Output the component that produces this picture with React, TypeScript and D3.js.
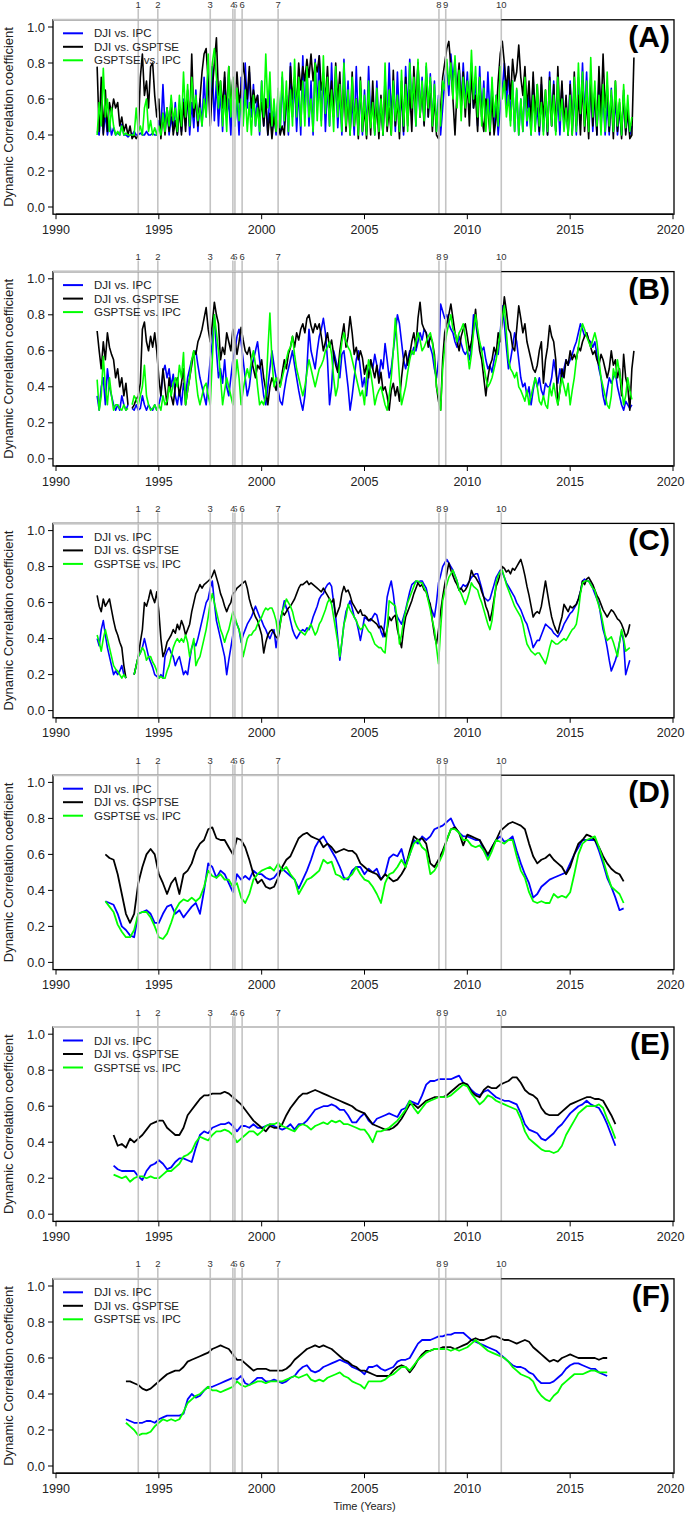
import React from "react";
import * as d3 from "d3";

// ---------- axis / annotation data ----------
const EVENT_YEARS = [1994.0, 1994.95, 1997.5, 1998.6, 1998.7, 1999.05, 2000.8, 2008.62, 2008.95, 2011.65];
const EVENT_LABELS = ["1", "2", "3", "4", "5", "6", "7", "8", "9", "10"];
// label drawing order ("4" drawn over "5", as in the source figure)
const EVENT_LABEL_ORDER = [0, 1, 2, 4, 3, 5, 6, 7, 8, 9];
const X_TICKS = [1990, 1995, 2000, 2005, 2010, 2015, 2020];
const Y_TICKS = [0, 0.2, 0.4, 0.6, 0.8, 1.0];
const SERIES_NAMES = ["DJI vs. IPC", "DJI vs. GSPTSE", "GSPTSE vs. IPC"];
const SERIES_COLORS = ["#0000ff", "#000000", "#00ff00"];
const PANEL_LABELS = ["(A)", "(B)", "(C)", "(D)", "(E)", "(F)"];
const PANEL_START = [1992.0, 1992.0, 1992.0, 1992.4, 1992.8, 1993.4];
const PANEL_STEP = [0.1, 0.1, 0.1, 0.2, 0.2, 0.2];

// ---------- Panel A (step 0.1 yr from 1992.0) ----------
const A_DJI_IPC = [
  0.42,0.40,0.58,0.41,0.52,0.40,0.47,0.40,0.44,0.40,
  0.41,0.40,0.46,0.40,0.40,0.39,0.40,0.40,0.42,0.40,
  0.40,0.41,0.40,0.40,0.42,0.40,0.40,0.41,0.40,0.40,
  0.48,0.42,0.68,0.45,0.55,0.40,0.50,0.42,0.58,0.40,
  0.55,0.42,0.60,0.45,0.62,0.40,0.58,0.44,0.65,0.42,
  0.60,0.45,0.72,0.50,0.80,0.55,0.78,0.48,0.70,0.45,
  0.65,0.42,0.72,0.50,0.60,0.40,0.70,0.45,0.62,0.40,
  0.72,0.48,0.80,0.55,0.75,0.50,0.68,0.45,0.62,0.40,
  0.70,0.45,0.60,0.40,0.66,0.42,0.55,0.40,0.62,0.41,
  0.72,0.45,0.62,0.40,0.80,0.50,0.70,0.42,0.66,0.40,
  0.84,0.50,0.78,0.45,0.70,0.40,0.82,0.55,0.84,0.48,
  0.75,0.42,0.68,0.45,0.80,0.50,0.72,0.44,0.65,0.40,
  0.82,0.50,0.70,0.42,0.60,0.40,0.78,0.45,0.66,0.40,
  0.65,0.42,0.78,0.48,0.62,0.40,0.70,0.44,0.58,0.40,
  0.72,0.45,0.80,0.50,0.68,0.42,0.75,0.48,0.62,0.40,
  0.78,0.52,0.82,0.55,0.70,0.45,0.80,0.50,0.72,0.46,
  0.78,0.50,0.74,0.45,0.70,0.42,0.62,0.40,0.55,0.70,
  0.80,0.62,0.85,0.70,0.82,0.60,0.78,0.55,0.80,0.58,
  0.75,0.52,0.80,0.55,0.72,0.45,0.78,0.50,0.70,0.45,
  0.75,0.50,0.68,0.42,0.62,0.40,0.55,0.65,0.80,0.55,
  0.78,0.48,0.70,0.42,0.65,0.40,0.60,0.42,0.70,0.45,
  0.62,0.40,0.72,0.45,0.55,0.40,0.68,0.42,0.60,0.40,
  0.75,0.45,0.70,0.42,0.62,0.40,0.68,0.44,0.58,0.40,
  0.70,0.42,0.66,0.40,0.72,0.48,0.80,0.50,0.75,0.45,
  0.70,0.42,0.64,0.40,0.72,0.45,0.62,0.40,0.58,0.40,
  0.66,0.42,0.60,0.40,0.55,0.40,0.62,0.42,0.52,0.40,
  0.45,
];
const A_DJI_GSPTSE = [
  0.78,0.42,0.72,0.40,0.65,0.42,0.58,0.52,0.60,0.55,
  0.58,0.45,0.50,0.42,0.46,0.40,0.45,0.38,0.40,0.38,
  0.40,0.72,0.85,0.62,0.70,0.55,0.78,0.80,0.62,0.50,
  0.60,0.38,0.52,0.40,0.55,0.42,0.60,0.40,0.48,0.40,
  0.55,0.40,0.58,0.42,0.65,0.45,0.85,0.50,0.60,0.45,
  0.60,0.75,0.85,0.88,0.70,0.45,0.65,0.80,0.94,0.62,
  0.70,0.55,0.75,0.50,0.78,0.55,0.72,0.60,0.75,0.58,
  0.65,0.80,0.70,0.60,0.78,0.55,0.65,0.58,0.62,0.50,
  0.58,0.45,0.60,0.40,0.52,0.38,0.50,0.42,0.48,0.40,
  0.45,0.40,0.62,0.50,0.78,0.60,0.72,0.55,0.80,0.65,
  0.78,0.70,0.82,0.72,0.85,0.70,0.80,0.75,0.84,0.65,
  0.72,0.60,0.78,0.55,0.70,0.50,0.80,0.58,0.75,0.45,
  0.70,0.42,0.62,0.40,0.75,0.45,0.60,0.38,0.72,0.42,
  0.55,0.38,0.65,0.40,0.70,0.42,0.58,0.38,0.62,0.40,
  0.68,0.42,0.55,0.40,0.76,0.45,0.60,0.38,0.70,0.42,
  0.72,0.45,0.65,0.42,0.78,0.55,0.80,0.50,0.68,0.45,
  0.75,0.50,0.70,0.42,0.62,0.40,0.38,0.55,0.72,0.80,
  0.88,0.92,0.78,0.60,0.40,0.65,0.80,0.55,0.75,0.50,
  0.70,0.45,0.75,0.55,0.62,0.42,0.72,0.50,0.42,0.60,
  0.55,0.40,0.62,0.40,0.50,0.70,0.85,0.92,0.80,0.65,
  0.78,0.60,0.82,0.70,0.75,0.90,0.72,0.62,0.78,0.55,
  0.70,0.45,0.75,0.50,0.68,0.42,0.72,0.48,0.65,0.40,
  0.72,0.45,0.68,0.42,0.78,0.50,0.70,0.45,0.62,0.40,
  0.68,0.40,0.75,0.45,0.62,0.40,0.70,0.42,0.60,0.38,
  0.72,0.45,0.65,0.40,0.78,0.50,0.85,0.55,0.68,0.42,
  0.62,0.38,0.70,0.42,0.58,0.38,0.65,0.40,0.55,0.38,
  0.40,0.83,
];
const A_GSPTSE_IPC = [
  0.40,0.58,0.45,0.77,0.50,0.60,0.42,0.55,0.45,0.40,
  0.42,0.40,0.45,0.40,0.41,0.40,0.40,0.40,0.40,0.55,
  0.42,0.45,0.40,0.55,0.60,0.42,0.48,0.40,0.44,0.40,
  0.45,0.40,0.52,0.42,0.55,0.45,0.62,0.48,0.55,0.42,
  0.62,0.45,0.75,0.50,0.68,0.45,0.72,0.55,0.62,0.48,
  0.55,0.45,0.60,0.50,0.85,0.65,0.80,0.88,0.72,0.55,
  0.70,0.45,0.62,0.42,0.78,0.50,0.72,0.45,0.66,0.48,
  0.60,0.45,0.65,0.42,0.58,0.40,0.62,0.45,0.55,0.42,
  0.70,0.50,0.85,0.55,0.75,0.45,0.60,0.42,0.66,0.44,
  0.75,0.48,0.70,0.42,0.65,0.45,0.82,0.50,0.72,0.45,
  0.70,0.45,0.78,0.50,0.60,0.42,0.80,0.48,0.70,0.45,
  0.84,0.52,0.72,0.45,0.65,0.42,0.78,0.50,0.68,0.42,
  0.80,0.45,0.65,0.40,0.72,0.45,0.60,0.40,0.70,0.42,
  0.62,0.40,0.70,0.44,0.58,0.40,0.66,0.42,0.60,0.40,
  0.80,0.45,0.65,0.40,0.70,0.48,0.62,0.42,0.76,0.45,
  0.68,0.42,0.80,0.55,0.72,0.45,0.82,0.50,0.70,0.48,
  0.80,0.55,0.72,0.45,0.68,0.42,0.60,0.45,0.70,0.65,
  0.82,0.68,0.80,0.60,0.84,0.55,0.76,0.48,0.72,0.55,
  0.70,0.58,0.87,0.60,0.78,0.50,0.72,0.45,0.66,0.42,
  0.60,0.42,0.72,0.50,0.62,0.45,0.78,0.60,0.70,0.50,
  0.62,0.45,0.70,0.42,0.66,0.40,0.60,0.42,0.72,0.48,
  0.55,0.40,0.62,0.42,0.68,0.45,0.58,0.40,0.65,0.42,
  0.70,0.45,0.62,0.40,0.72,0.48,0.60,0.42,0.55,0.40,
  0.62,0.40,0.72,0.42,0.80,0.52,0.75,0.45,0.70,0.42,
  0.83,0.50,0.70,0.45,0.62,0.40,0.68,0.42,0.75,0.45,
  0.65,0.42,0.70,0.45,0.60,0.40,0.68,0.44,0.62,0.42,
  0.50,
];

// ---------- Panel B (step 0.1 yr from 1992.0) ----------
const B_DJI_IPC = [
  0.35,0.27,0.40,0.45,0.30,0.50,0.40,0.35,0.30,0.27,
  0.30,0.27,0.35,0.30,0.27,0.30,null,0.28,0.27,0.30,
  0.27,0.28,0.35,0.30,0.27,0.30,0.28,0.27,0.30,0.27,
  0.30,0.35,0.48,0.52,0.45,0.50,0.40,0.47,0.35,0.30,
  0.38,0.30,0.42,0.35,0.45,0.50,0.55,0.58,0.60,0.52,
  0.45,0.40,0.35,0.30,0.42,0.55,0.65,0.80,0.60,0.45,
  0.50,0.42,0.55,0.40,0.35,0.45,0.55,0.60,0.68,0.72,
  0.65,0.55,0.45,0.35,0.40,0.50,0.55,0.60,0.65,0.55,
  0.45,0.35,0.30,0.40,0.50,0.60,0.52,0.45,0.38,0.32,
  0.30,0.38,0.45,0.50,0.55,0.60,0.52,0.45,0.38,0.32,
  0.27,0.35,0.50,0.72,0.60,0.55,0.50,0.60,0.68,0.72,
  0.78,0.70,0.55,0.30,0.40,0.60,0.55,0.50,0.45,0.58,
  0.60,0.50,0.40,0.27,0.35,0.45,0.55,0.60,0.50,0.40,
  0.45,0.35,0.48,0.55,0.50,0.58,0.52,0.45,0.55,0.50,
  0.64,0.55,0.45,0.50,0.60,0.70,0.80,0.75,0.65,0.55,
  0.50,0.55,0.60,0.58,0.62,0.60,0.65,0.70,0.66,0.72,
  0.70,0.65,0.62,0.58,0.50,0.45,0.55,0.86,0.82,0.78,
  0.80,0.75,0.72,0.70,0.65,0.62,0.68,0.64,0.60,0.58,
  0.60,0.55,0.62,0.80,0.76,0.68,0.64,0.60,0.62,0.55,
  0.50,0.52,0.48,0.55,0.60,0.58,0.70,0.85,0.75,0.62,
  0.50,0.55,0.62,0.70,0.65,0.55,0.45,0.40,0.42,0.35,
  0.40,0.30,0.38,0.45,0.40,0.45,0.38,0.35,0.42,0.40,
  0.40,0.45,0.55,0.48,0.42,0.50,0.45,0.50,0.55,0.52,
  0.55,0.58,0.62,0.65,0.70,0.75,0.72,0.68,0.70,0.66,
  0.65,0.62,0.65,0.58,0.50,0.45,0.35,0.30,0.38,0.45,
  0.42,0.45,0.48,0.40,0.35,0.30,0.27,0.32,0.30,0.28,
  0.30,
];
const B_DJI_GSPTSE = [
  0.71,0.60,0.50,0.65,0.55,0.70,0.62,0.58,0.55,0.45,
  0.50,0.40,0.45,0.35,0.42,0.30,null,0.28,0.30,0.33,
  0.35,0.42,0.72,0.76,0.65,0.60,0.68,0.62,0.70,0.60,
  0.45,0.35,0.50,0.40,0.30,0.45,0.35,0.30,0.40,0.45,
  0.35,0.42,0.50,0.30,0.38,0.45,0.52,0.60,0.58,0.65,
  0.68,0.72,0.78,0.84,0.72,0.65,0.75,0.87,0.80,0.75,
  0.55,0.62,0.58,0.70,0.65,0.60,0.72,0.66,0.58,0.65,
  0.73,0.66,0.60,0.58,0.62,0.55,0.50,0.45,0.52,0.50,
  0.55,0.45,0.38,0.30,0.40,0.45,0.42,0.38,0.45,0.40,
  0.48,0.55,0.50,0.58,0.62,0.68,0.62,0.70,0.66,0.72,
  0.75,0.70,0.78,0.80,0.74,0.70,0.75,0.72,0.75,0.68,
  0.60,0.65,0.70,0.62,0.66,0.58,0.52,0.48,0.60,0.68,
  0.75,0.62,0.68,0.79,0.70,0.58,0.62,0.55,0.60,0.56,
  0.47,0.52,0.45,0.55,0.50,0.45,0.52,0.42,0.48,0.38,
  0.40,0.35,0.27,0.38,0.42,0.35,0.40,0.32,0.45,0.55,
  0.60,0.52,0.58,0.65,0.70,0.62,0.78,0.87,0.75,0.72,
  0.70,0.62,0.68,0.65,0.58,0.40,0.32,0.27,0.55,0.70,
  0.75,0.80,0.86,0.78,0.70,0.65,0.60,0.68,0.72,0.75,
  0.68,0.60,0.65,0.72,0.83,0.70,0.60,0.55,0.45,0.35,
  0.45,0.52,0.55,0.62,0.58,0.70,0.65,0.78,0.90,0.82,
  0.72,0.70,0.62,0.60,0.72,0.85,0.78,0.70,0.75,0.65,
  0.60,0.55,0.50,0.48,0.52,0.60,0.65,0.42,0.55,0.62,
  0.74,0.68,0.65,0.55,0.30,0.38,0.50,0.45,0.55,0.52,
  0.60,0.55,0.58,0.55,0.62,0.60,0.65,0.68,0.70,0.66,
  0.62,0.58,0.60,0.55,0.52,0.58,0.55,0.50,0.45,0.50,
  0.60,0.52,0.55,0.45,0.50,0.35,0.58,0.45,0.40,0.27,
  0.50,0.60,
];
const B_GSPTSE_IPC = [
  0.44,0.27,0.35,0.57,0.40,0.30,0.45,0.35,0.27,0.30,
  0.30,0.28,0.27,0.30,0.27,0.28,null,0.30,0.35,0.33,
  0.30,0.35,0.40,0.52,0.35,0.30,0.27,0.28,0.30,0.27,
  0.30,0.27,0.35,0.30,0.32,0.40,0.35,0.42,0.45,0.40,
  0.52,0.45,0.59,0.30,0.38,0.45,0.55,0.60,0.45,0.35,
  0.30,0.35,0.40,0.42,0.35,0.30,0.55,0.80,0.70,0.60,
  0.45,0.30,0.38,0.45,0.40,0.35,0.30,0.42,0.55,0.45,
  0.30,0.38,0.45,0.50,0.45,0.55,0.60,0.52,0.40,0.30,
  0.32,0.30,0.35,0.60,0.81,0.55,0.40,0.45,0.42,0.40,
  0.45,0.50,0.55,0.60,0.62,0.68,0.58,0.50,0.45,0.40,
  0.35,0.40,0.48,0.55,0.50,0.45,0.40,0.45,0.50,0.52,
  0.55,0.60,0.62,0.65,0.58,0.45,0.35,0.40,0.55,0.65,
  0.70,0.65,0.62,0.60,0.55,0.50,0.45,0.40,0.35,0.38,
  0.30,0.45,0.55,0.48,0.40,0.30,0.35,0.38,0.40,0.35,
  0.30,0.27,0.35,0.45,0.60,0.78,0.62,0.45,0.30,0.35,
  0.40,0.48,0.55,0.60,0.58,0.65,0.70,0.66,0.60,0.62,
  0.65,0.68,0.70,0.65,0.55,0.40,0.35,0.27,0.50,0.62,
  0.70,0.75,0.80,0.72,0.70,0.65,0.70,0.72,0.75,0.68,
  0.60,0.50,0.58,0.70,0.80,0.72,0.65,0.60,0.52,0.45,
  0.40,0.42,0.45,0.50,0.55,0.62,0.70,0.78,0.85,0.70,
  0.55,0.50,0.48,0.45,0.48,0.40,0.38,0.35,0.32,0.38,
  0.30,0.35,0.40,0.45,0.40,0.32,0.30,0.35,0.30,0.28,
  0.40,0.35,0.42,0.35,0.30,0.38,0.45,0.40,0.35,0.42,
  0.30,0.38,0.45,0.55,0.62,0.70,0.75,0.72,0.68,0.65,
  0.62,0.66,0.70,0.65,0.55,0.45,0.40,0.35,0.30,0.28,
  0.35,0.50,0.45,0.55,0.48,0.40,0.30,0.35,0.45,0.38,
  0.33,
];

// ---------- Panel C (step 0.1 yr from 1992.0) ----------
const C_DJI_IPC = [
  0.40,0.36,0.45,0.50,0.42,0.35,0.30,0.25,0.20,0.22,
  0.20,0.22,0.25,0.20,0.18,null,null,null,0.20,0.25,
  0.30,0.32,0.35,0.40,0.35,0.30,0.27,0.24,0.20,0.19,
  0.18,0.20,0.18,0.30,0.33,0.35,0.32,0.30,0.25,0.28,
  0.30,0.25,0.20,0.22,0.20,0.28,0.35,0.38,0.36,0.40,
  0.45,0.50,0.55,0.60,0.62,0.68,0.72,0.60,0.50,0.45,
  0.40,0.35,0.30,0.20,0.28,0.35,0.42,0.50,0.48,0.45,
  0.38,0.42,0.45,0.48,0.50,0.52,0.55,0.58,0.55,0.52,
  0.50,0.47,0.45,0.42,0.40,0.43,0.45,0.35,0.42,0.50,
  0.55,0.61,0.57,0.55,0.50,0.45,0.42,0.40,0.42,0.44,
  0.45,0.44,0.46,0.45,0.48,0.52,0.55,0.58,0.62,0.64,
  0.65,0.68,0.70,0.71,0.69,0.60,0.52,0.40,0.28,0.38,
  0.48,0.55,0.58,0.61,0.57,0.52,0.50,0.45,0.39,0.45,
  0.52,0.51,0.50,0.50,0.52,0.54,0.53,0.48,0.44,0.41,
  0.50,0.63,0.68,0.72,0.65,0.55,0.52,0.50,0.48,0.52,
  0.56,0.61,0.66,0.70,0.71,0.72,0.71,0.72,0.72,0.70,
  0.68,0.63,0.58,0.55,0.52,0.60,0.71,0.75,0.80,0.82,
  0.84,0.82,0.80,0.78,0.75,0.72,0.67,0.68,0.70,0.69,
  0.70,0.72,0.74,0.75,0.76,0.76,0.72,0.68,0.63,0.62,
  0.61,0.62,0.66,0.70,0.74,0.76,0.78,0.77,0.74,0.71,
  0.69,0.67,0.65,0.63,0.60,0.58,0.56,0.53,0.50,0.48,
  0.44,0.40,0.35,0.37,0.39,0.39,0.42,0.45,0.48,0.47,
  0.46,0.45,0.43,0.42,0.41,0.43,0.45,0.48,0.50,0.52,
  0.54,0.55,0.57,0.59,0.62,0.66,0.72,0.73,0.72,0.72,
  0.70,0.68,0.65,0.62,0.59,0.52,0.45,0.41,0.35,0.28,
  0.22,0.25,0.28,0.32,0.38,0.44,0.38,0.20,0.24,0.28,
];
const C_DJI_GSPTSE = [
  0.64,0.58,0.55,0.62,0.58,0.60,0.62,0.56,0.50,0.45,
  0.42,0.38,0.35,0.25,0.18,null,null,null,0.20,0.25,
  0.30,0.38,0.45,0.60,0.58,0.62,0.67,0.63,0.60,0.66,
  0.55,0.40,0.30,0.33,0.38,0.40,0.42,0.45,0.43,0.48,
  0.45,0.50,0.47,0.42,0.45,0.48,0.55,0.60,0.65,0.67,
  0.70,0.68,0.70,0.71,0.72,0.73,0.75,0.78,0.74,0.70,
  0.65,0.62,0.58,0.55,0.58,0.60,0.65,0.66,0.68,0.69,
  0.70,0.71,0.72,0.68,0.62,0.58,0.55,0.52,0.50,0.46,
  0.42,0.32,0.38,0.42,0.44,0.45,0.43,0.41,0.40,0.48,
  0.55,0.53,0.55,0.57,0.58,0.60,0.62,0.65,0.68,0.70,
  0.70,0.71,0.72,0.70,0.71,0.70,0.69,0.68,0.67,0.66,
  0.68,0.66,0.64,0.62,0.60,0.62,0.52,0.55,0.58,0.65,
  0.69,0.66,0.67,0.64,0.60,0.58,0.56,0.54,0.56,0.53,
  0.53,0.52,0.50,0.51,0.50,0.49,0.48,0.46,0.47,0.45,
  0.41,0.45,0.52,0.50,0.52,0.53,0.45,0.40,0.35,0.45,
  0.52,0.55,0.58,0.61,0.65,0.68,0.71,0.69,0.70,0.67,
  0.66,0.62,0.59,0.50,0.42,0.37,0.45,0.55,0.63,0.70,
  0.76,0.82,0.78,0.75,0.72,0.70,0.67,0.68,0.66,0.67,
  0.69,0.72,0.78,0.75,0.74,0.72,0.70,0.66,0.63,0.58,
  0.55,0.50,0.55,0.62,0.69,0.72,0.76,0.80,0.79,0.77,
  0.78,0.76,0.79,0.78,0.80,0.82,0.84,0.80,0.75,0.69,
  0.64,0.58,0.52,0.54,0.55,0.54,0.58,0.65,0.72,0.65,
  0.58,0.52,0.48,0.45,0.43,0.48,0.52,0.59,0.57,0.55,
  0.58,0.57,0.58,0.59,0.62,0.66,0.72,0.70,0.73,0.74,
  0.72,0.70,0.67,0.64,0.62,0.59,0.56,0.54,0.52,0.54,
  0.56,0.55,0.53,0.51,0.50,0.48,0.45,0.41,0.43,0.48,
];
const C_GSPTSE_IPC = [
  0.42,0.38,0.33,0.40,0.45,0.40,0.35,0.30,0.25,0.23,
  0.22,0.20,0.18,0.20,0.18,null,null,null,0.20,0.25,
  0.30,0.32,0.35,0.33,0.28,0.30,0.30,0.27,0.25,0.22,
  0.18,0.19,0.18,0.18,0.22,0.25,0.30,0.35,0.38,0.40,
  0.38,0.40,0.38,0.42,0.38,0.30,0.35,0.40,0.25,0.28,
  0.30,0.35,0.40,0.45,0.52,0.60,0.65,0.60,0.55,0.50,
  0.45,0.42,0.38,0.42,0.45,0.50,0.55,0.52,0.48,0.45,
  0.40,0.30,0.35,0.40,0.42,0.42,0.44,0.45,0.48,0.50,
  0.52,0.55,0.57,0.56,0.57,0.57,0.54,0.50,0.42,0.48,
  0.55,0.58,0.62,0.60,0.58,0.55,0.50,0.47,0.45,0.44,
  0.43,0.42,0.44,0.46,0.48,0.45,0.42,0.44,0.48,0.50,
  0.53,0.56,0.60,0.62,0.59,0.52,0.45,0.38,0.30,0.38,
  0.48,0.52,0.59,0.56,0.54,0.52,0.50,0.47,0.45,0.46,
  0.48,0.46,0.44,0.43,0.40,0.37,0.36,0.35,0.35,0.33,
  0.32,0.45,0.61,0.60,0.59,0.58,0.50,0.37,0.42,0.50,
  0.55,0.60,0.63,0.66,0.69,0.72,0.72,0.71,0.71,0.68,
  0.66,0.61,0.56,0.50,0.45,0.35,0.26,0.45,0.61,0.66,
  0.70,0.74,0.76,0.78,0.75,0.72,0.67,0.65,0.62,0.59,
  0.62,0.66,0.71,0.69,0.68,0.67,0.63,0.60,0.56,0.52,
  0.48,0.45,0.50,0.60,0.71,0.75,0.77,0.78,0.74,0.70,
  0.67,0.64,0.61,0.58,0.56,0.54,0.52,0.48,0.42,0.37,
  0.35,0.33,0.32,0.31,0.32,0.32,0.30,0.28,0.26,0.30,
  0.35,0.39,0.38,0.37,0.37,0.38,0.39,0.40,0.39,0.41,
  0.43,0.45,0.46,0.48,0.55,0.65,0.71,0.72,0.72,0.72,
  0.70,0.68,0.67,0.62,0.58,0.54,0.48,0.42,0.39,0.40,
  0.41,0.38,0.34,0.30,0.38,0.45,0.40,0.33,0.34,0.35,
];

// ---------- Panel D (step 0.2 yr from 1992.4) ----------
const D_DJI_IPC = [
  0.34,0.33,0.32,
  0.27,0.20,0.18,0.15,0.14,
  0.27,0.28,0.29,0.27,0.22,
  0.22,0.27,0.31,0.32,0.27,
  0.29,0.25,0.28,0.31,0.33,
  0.27,0.40,0.55,0.53,0.47,
  0.51,0.49,0.44,0.39,0.49,
  0.46,0.48,0.46,0.51,0.49,
  0.49,0.47,0.46,0.47,0.50,
  0.52,0.50,0.48,0.46,0.41,
  0.46,0.51,0.57,0.64,0.68,
  0.70,0.66,0.62,0.58,0.53,
  0.47,0.46,0.51,0.53,0.53,
  0.49,0.52,0.50,0.52,0.46,
  0.49,0.58,0.60,0.59,0.63,
  0.54,0.60,0.68,0.66,0.70,
  0.68,0.70,0.74,0.75,0.76,
  0.78,0.80,0.75,0.72,0.70,
  0.70,0.69,0.68,0.68,0.62,
  0.59,0.64,0.68,0.70,0.67,
  0.68,0.70,0.62,0.55,0.49,
  0.44,0.36,0.38,0.42,0.44,
  0.46,0.47,0.48,0.49,0.50,
  0.55,0.60,0.64,0.68,0.68,
  0.68,0.68,0.62,0.55,0.47,
  0.42,0.36,0.29,0.30,
];
const D_DJI_GSPTSE = [
  0.60,0.58,0.57,
  0.49,0.38,0.27,0.22,0.27,
  0.44,0.53,0.60,0.63,0.60,
  0.49,0.44,0.38,0.44,0.47,
  0.38,0.49,0.51,0.55,0.62,
  0.66,0.68,0.74,0.75,0.69,
  0.68,0.68,0.64,0.60,0.69,
  0.68,0.64,0.57,0.49,0.44,
  0.46,0.42,0.41,0.42,0.47,
  0.53,0.57,0.59,0.64,0.69,
  0.71,0.72,0.70,0.69,0.68,
  0.64,0.66,0.64,0.61,0.62,
  0.63,0.62,0.62,0.60,0.55,
  0.53,0.51,0.50,0.49,0.46,
  0.49,0.47,0.45,0.46,0.49,
  0.53,0.62,0.70,0.68,0.69,
  0.66,0.55,0.53,0.57,0.62,
  0.68,0.74,0.75,0.72,0.65,
  0.71,0.70,0.69,0.68,0.64,
  0.60,0.64,0.68,0.73,0.75,
  0.77,0.78,0.77,0.76,0.74,
  0.66,0.59,0.55,0.57,0.58,
  0.60,0.57,0.55,0.53,0.49,
  0.53,0.60,0.66,0.68,0.71,
  0.70,0.68,0.64,0.59,0.55,
  0.52,0.50,0.49,0.45,
];
const D_GSPTSE_IPC = [
  0.34,0.31,0.28,
  0.21,0.17,0.14,0.14,0.18,
  0.27,0.28,0.28,0.25,0.20,
  0.14,0.13,0.16,0.22,0.29,
  0.33,0.35,0.34,0.36,0.34,
  0.36,0.42,0.51,0.48,0.47,
  0.49,0.46,0.46,0.42,0.44,
  0.36,0.33,0.38,0.46,0.49,
  0.51,0.52,0.53,0.51,0.55,
  0.51,0.53,0.49,0.46,0.38,
  0.42,0.46,0.47,0.49,0.51,
  0.57,0.55,0.56,0.49,0.48,
  0.46,0.47,0.49,0.53,0.49,
  0.46,0.45,0.42,0.38,0.33,
  0.44,0.49,0.50,0.53,0.57,
  0.53,0.60,0.66,0.68,0.64,
  0.62,0.49,0.51,0.55,0.60,
  0.68,0.74,0.74,0.72,0.68,
  0.68,0.65,0.64,0.65,0.62,
  0.57,0.62,0.68,0.67,0.66,
  0.68,0.68,0.59,0.51,0.47,
  0.39,0.34,0.33,0.34,0.33,
  0.33,0.38,0.36,0.37,0.36,
  0.39,0.49,0.60,0.66,0.68,
  0.69,0.70,0.64,0.57,0.49,
  0.42,0.40,0.38,0.33,
];

// ---------- Panel E (step 0.2 yr from 1992.8) ----------
const E_DJI_IPC = [
  0.27,
  0.25,0.24,0.24,0.24,0.24,
  0.21,0.19,0.24,0.27,0.28,
  0.30,0.28,0.25,0.26,0.29,
  0.31,0.31,0.30,0.29,0.37,
  0.44,0.46,0.45,0.48,0.49,
  0.50,0.50,0.51,0.49,0.46,
  0.49,0.49,0.48,0.50,0.48,
  0.48,0.49,0.50,0.49,0.48,
  0.47,0.48,0.50,0.47,0.50,
  0.50,0.52,0.55,0.58,0.59,
  0.60,0.60,0.61,0.60,0.58,
  0.58,0.55,0.51,0.51,0.54,
  0.56,0.52,0.50,0.53,0.54,
  0.55,0.56,0.55,0.54,0.58,
  0.59,0.63,0.62,0.61,0.66,
  0.72,0.74,0.74,0.75,0.75,
  0.75,0.75,0.76,0.77,0.73,
  0.72,0.69,0.67,0.66,0.68,
  0.69,0.67,0.65,0.64,0.63,
  0.63,0.62,0.61,0.56,0.50,
  0.47,0.46,0.45,0.42,0.41,
  0.43,0.45,0.48,0.50,0.53,
  0.56,0.58,0.60,0.61,0.63,
  0.61,0.60,0.59,0.55,0.50,
  0.44,0.38,
];
const E_DJI_GSPTSE = [
  0.44,
  0.38,0.39,0.37,0.42,0.40,
  0.42,0.44,0.47,0.50,0.51,
  0.52,0.52,0.48,0.46,0.44,
  0.44,0.48,0.55,0.58,0.61,
  0.64,0.66,0.66,0.67,0.67,
  0.67,0.68,0.67,0.65,0.63,
  0.61,0.58,0.55,0.52,0.50,
  0.48,0.46,0.49,0.48,0.48,
  0.50,0.55,0.59,0.62,0.65,
  0.67,0.67,0.68,0.69,0.68,
  0.67,0.66,0.65,0.64,0.63,
  0.62,0.61,0.60,0.58,0.57,
  0.56,0.53,0.50,0.49,0.48,
  0.47,0.47,0.48,0.50,0.53,
  0.57,0.61,0.61,0.59,0.61,
  0.63,0.64,0.65,0.65,0.65,
  0.66,0.68,0.70,0.72,0.73,
  0.72,0.68,0.66,0.65,0.69,
  0.71,0.70,0.70,0.72,0.73,
  0.74,0.76,0.76,0.73,0.69,
  0.67,0.66,0.64,0.59,0.56,
  0.55,0.55,0.55,0.57,0.59,
  0.61,0.62,0.63,0.64,0.65,
  0.65,0.64,0.64,0.63,0.59,
  0.55,0.50,
];
const E_GSPTSE_IPC = [
  0.22,
  0.21,0.20,0.21,0.18,0.20,
  0.21,0.21,0.20,0.21,0.20,
  0.20,0.22,0.24,0.24,0.26,
  0.28,0.32,0.33,0.35,0.40,
  0.43,0.42,0.41,0.44,0.46,
  0.46,0.47,0.46,0.44,0.40,
  0.42,0.44,0.46,0.46,0.44,
  0.46,0.49,0.50,0.50,0.51,
  0.49,0.48,0.47,0.46,0.49,
  0.50,0.49,0.47,0.49,0.50,
  0.51,0.50,0.52,0.51,0.52,
  0.50,0.50,0.49,0.48,0.47,
  0.47,0.44,0.40,0.46,0.46,
  0.47,0.48,0.50,0.52,0.55,
  0.58,0.63,0.59,0.56,0.59,
  0.62,0.63,0.64,0.65,0.65,
  0.65,0.66,0.68,0.70,0.72,
  0.71,0.67,0.64,0.61,0.63,
  0.66,0.65,0.63,0.62,0.61,
  0.60,0.59,0.58,0.53,0.46,
  0.42,0.40,0.38,0.36,0.35,
  0.35,0.34,0.35,0.38,0.44,
  0.48,0.52,0.56,0.58,0.60,
  0.60,0.60,0.61,0.59,0.53,
  0.48,0.42,
];

// ---------- Panel F (step 0.2 yr from 1993.4) ----------
const F_DJI_IPC = [
  0.26,0.25,0.24,
  0.24,0.24,0.25,0.25,0.24,
  0.26,0.27,0.28,0.28,0.28,
  0.28,0.29,0.37,0.40,0.38,
  0.39,0.42,0.44,0.44,0.45,
  0.46,0.47,0.48,0.49,0.48,
  0.50,0.46,0.45,0.47,0.49,
  0.49,0.47,0.47,0.48,0.47,
  0.46,0.47,0.49,0.50,0.53,
  0.55,0.56,0.53,0.52,0.53,
  0.55,0.56,0.57,0.58,0.59,
  0.58,0.57,0.55,0.54,0.53,
  0.51,0.55,0.55,0.56,0.54,
  0.53,0.54,0.55,0.58,0.59,
  0.59,0.60,0.64,0.68,0.70,
  0.70,0.70,0.71,0.72,0.72,
  0.73,0.73,0.74,0.74,0.74,
  0.72,0.70,0.69,0.68,0.67,
  0.66,0.65,0.64,0.62,0.60,
  0.58,0.56,0.55,0.55,0.54,
  0.52,0.51,0.48,0.46,0.46,
  0.46,0.47,0.49,0.51,0.54,
  0.56,0.57,0.57,0.56,0.55,
  0.54,0.54,0.52,0.51,0.50,
];
const F_DJI_GSPTSE = [
  0.47,0.47,0.46,
  0.45,0.43,0.42,0.43,0.45,
  0.47,0.49,0.51,0.52,0.53,
  0.53,0.55,0.58,0.59,0.60,
  0.61,0.62,0.63,0.65,0.66,
  0.67,0.66,0.65,0.62,0.59,
  0.59,0.57,0.55,0.53,0.54,
  0.54,0.54,0.53,0.53,0.53,
  0.53,0.54,0.56,0.59,0.61,
  0.63,0.65,0.66,0.67,0.66,
  0.67,0.66,0.65,0.63,0.61,
  0.59,0.58,0.56,0.55,0.53,
  0.53,0.52,0.51,0.50,0.50,
  0.50,0.50,0.53,0.55,0.56,
  0.55,0.52,0.55,0.59,0.62,
  0.64,0.64,0.65,0.65,0.66,
  0.66,0.66,0.65,0.66,0.67,
  0.68,0.70,0.71,0.70,0.70,
  0.71,0.72,0.72,0.71,0.70,
  0.70,0.69,0.68,0.69,0.70,
  0.69,0.66,0.64,0.62,0.60,
  0.58,0.59,0.58,0.60,0.61,
  0.62,0.61,0.60,0.60,0.60,
  0.60,0.60,0.59,0.60,0.60,
];
const F_GSPTSE_IPC = [
  0.24,0.22,0.20,
  0.17,0.18,0.18,0.19,0.22,
  0.24,0.26,0.25,0.26,0.25,
  0.26,0.30,0.35,0.37,0.39,
  0.40,0.42,0.44,0.42,0.42,
  0.41,0.42,0.43,0.44,0.47,
  0.45,0.44,0.45,0.46,0.47,
  0.47,0.46,0.47,0.47,0.47,
  0.47,0.48,0.49,0.50,0.49,
  0.50,0.51,0.48,0.47,0.48,
  0.47,0.49,0.50,0.51,0.52,
  0.50,0.49,0.47,0.46,0.45,
  0.43,0.47,0.47,0.47,0.47,
  0.48,0.50,0.51,0.53,0.55,
  0.55,0.53,0.56,0.59,0.61,
  0.63,0.64,0.65,0.65,0.65,
  0.65,0.64,0.65,0.64,0.65,
  0.66,0.68,0.70,0.68,0.66,
  0.64,0.63,0.62,0.61,0.60,
  0.58,0.55,0.53,0.51,0.50,
  0.49,0.47,0.42,0.39,0.37,
  0.36,0.39,0.41,0.45,0.47,
  0.49,0.51,0.51,0.51,0.52,
  0.53,0.53,0.52,0.52,0.52,
];

const PANEL_SERIES = [
  [A_DJI_IPC, A_DJI_GSPTSE, A_GSPTSE_IPC],
  [B_DJI_IPC, B_DJI_GSPTSE, B_GSPTSE_IPC],
  [C_DJI_IPC, C_DJI_GSPTSE, C_GSPTSE_IPC],
  [D_DJI_IPC, D_DJI_GSPTSE, D_GSPTSE_IPC],
  [E_DJI_IPC, E_DJI_GSPTSE, E_GSPTSE_IPC],
  [F_DJI_IPC, F_DJI_GSPTSE, F_GSPTSE_IPC],
];

// ---------- layout ----------
const W = 685;
const H = 1515;
const PANEL_H = 251.8;
const FONT = "'Liberation Sans', Arial, Helvetica, sans-serif";
const BOX_LEFT = 53;
const BOX_RIGHT = 674;

const xScale = d3.scaleLinear().domain([1990, 2020]).range([56, 673]);

function Panel({ index }: { index: number }) {
  const off = index * PANEL_H;
  const y = d3.scaleLinear().domain([0, 1]).range([207 + off, 27 + off]);
  const top = y(1.04);
  const bottom = y(-0.04);
  const start = PANEL_START[index];
  const step = PANEL_STEP[index];
  const series = PANEL_SERIES[index];
  const lw = index >= 3 ? 1.8 : 1.6;

  const line = d3
    .line<number | null>()
    .defined((v) => v != null)
    .x((_, i) => xScale(start + i * step))
    .y((v) => y(v as number));

  const ev10 = xScale(EVENT_YEARS[EVENT_YEARS.length - 1]);
  const lastTick = X_TICKS[X_TICKS.length - 1];

  return (
    <g>
      {/* y axis title */}
      <text
        transform={`translate(12.5, ${(top + bottom) / 2}) rotate(-90)`}
        textAnchor="middle"
        fontSize={13}
        fill="#222"
        fontFamily={FONT}
      >
        Dynamic Correlation coefficient
      </text>

      {/* series */}
      {series.map((vals, si) => (
        <path
          key={si}
          d={line(vals as (number | null)[]) || ""}
          fill="none"
          stroke={SERIES_COLORS[si]}
          strokeWidth={lw}
          strokeLinejoin="round"
        />
      ))}

      {/* event lines */}
      {EVENT_YEARS.map((yr, k) => (
        <line
          key={"ev" + k}
          x1={xScale(yr)}
          x2={xScale(yr)}
          y1={top - 11}
          y2={bottom}
          stroke="#c4c4c4"
          strokeWidth={1.6}
        />
      ))}

      {/* box */}
      <rect
        x={BOX_LEFT}
        y={top}
        width={BOX_RIGHT - BOX_LEFT}
        height={bottom - top}
        fill="none"
        stroke="#000"
        strokeWidth={1.3}
      />
      <line x1={BOX_LEFT} x2={ev10} y1={top} y2={top} stroke="#c4c4c4" strokeWidth={2} />

      {/* event labels */}
      {EVENT_LABEL_ORDER.map((k) => (
        <text
          key={"el" + k}
          x={xScale(EVENT_YEARS[k])}
          y={top - 15}
          textAnchor="middle"
          dominantBaseline="central"
          fontSize={9.5}
          fill="#333"
          stroke="#fff"
          strokeWidth={k === 3 ? 1.2 : 0}
          paintOrder="stroke"
          fontFamily={FONT}
        >
          {EVENT_LABELS[k]}
        </text>
      ))}

      {/* y axis ticks */}
      {Y_TICKS.map((t) => (
        <g key={"yt" + t}>
          <line x1={BOX_LEFT - 5} x2={BOX_LEFT} y1={y(t)} y2={y(t)} stroke="#000" strokeWidth={1} />
          <text
            x={BOX_LEFT - 8}
            y={y(t)}
            textAnchor="end"
            dominantBaseline="central"
            fontSize={13}
            fill="#222"
            fontFamily={FONT}
          >
            {d3.format(".1f")(t)}
          </text>
        </g>
      ))}

      {/* x axis ticks */}
      <line x1={xScale(1990)} x2={xScale(2020)} y1={bottom} y2={bottom} stroke="#000" strokeWidth={1.3} />
      {X_TICKS.map((t) => (
        <g key={"xt" + t}>
          <line x1={xScale(t)} x2={xScale(t)} y1={bottom} y2={bottom + 5} stroke="#000" strokeWidth={1} />
          <text
            x={t === lastTick ? W - 0.5 : xScale(t)}
            y={bottom + 19.5}
            textAnchor={t === lastTick ? "end" : "middle"}
            fontSize={12.5}
            fill="#222"
            fontFamily={FONT}
          >
            {t}
          </text>
        </g>
      ))}

      {/* legend */}
      {SERIES_NAMES.map((name, si) => (
        <g key={"lg" + si}>
          <line
            x1={63}
            x2={83}
            y1={top + 13.5 + si * 13.5}
            y2={top + 13.5 + si * 13.5}
            stroke={SERIES_COLORS[si]}
            strokeWidth={2}
          />
          <text
            x={94}
            y={top + 13.5 + si * 13.5}
            dominantBaseline="central"
            fontSize={11.5}
            fill="#222"
            fontFamily={FONT}
          >
            {name}
          </text>
        </g>
      ))}

      {/* panel label */}
      <text
        x={670}
        y={top + 27}
        textAnchor="end"
        fontSize={30}
        fontWeight="bold"
        fill="#000"
        fontFamily={FONT}
      >
        {PANEL_LABELS[index]}
      </text>

      {index === PANEL_LABELS.length - 1 && (
        <text
          x={(xScale(1990) + xScale(2020)) / 2}
          y={bottom + 37}
          textAnchor="middle"
          fontSize={11}
          fill="#222"
          fontFamily={FONT}
        >
          Time (Years)
        </text>
      )}
    </g>
  );
}

export default function App() {
  return (
    <svg
      width={W}
      height={H}
      viewBox={`0 0 ${W} ${H}`}
      style={{ position: "absolute", left: 0, top: 0, display: "block", background: "#fff" }}
    >
      <rect x={0} y={0} width={W} height={H} fill="#fff" />
      {PANEL_LABELS.map((_, i) => (
        <Panel key={i} index={i} />
      ))}
    </svg>
  );
}
